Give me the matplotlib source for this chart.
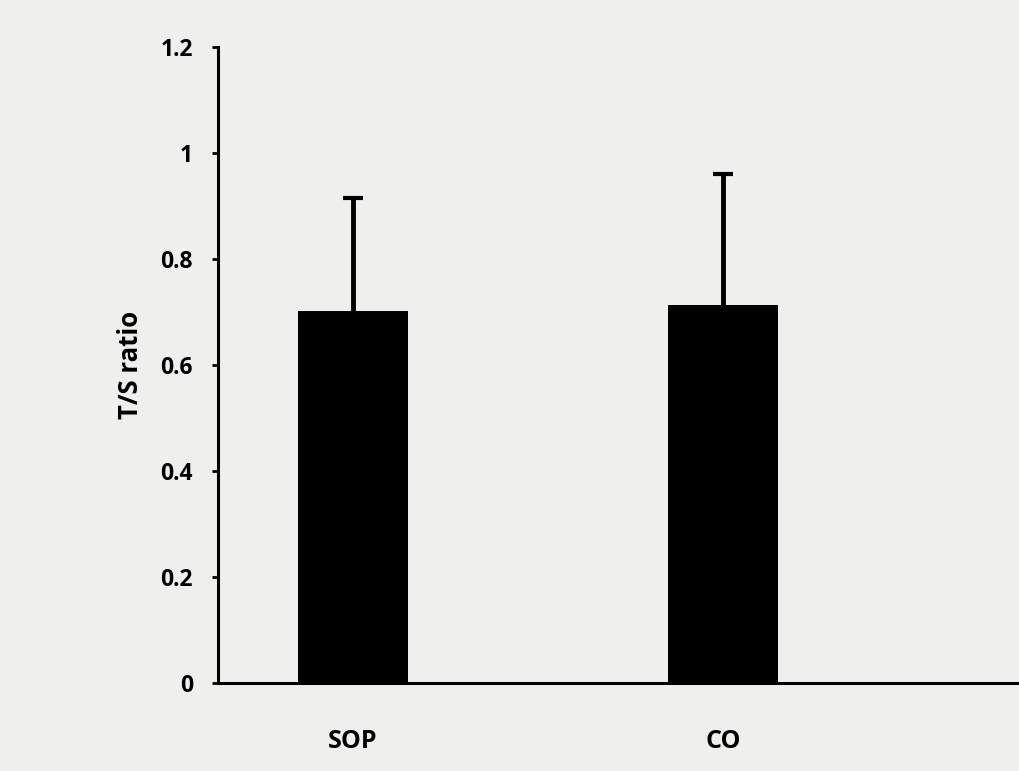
import matplotlib.pyplot as plt

groups = ["SOP", "CO"]
ts_ratio = [0.702, 0.713]
ts_err = [0.213, 0.247]
y_ticks = [0, 0.2, 0.4, 0.6, 0.8, 1.0, 1.2]
y_tick_labels = ["0", "0.2", "0.4", "0.6", "0.8", "1", "1.2"]

plt.rcParams["font.family"] = ["Open Sans", "DejaVu Sans"]
plt.rcParams["font.weight"] = "bold"

fig = plt.figure(figsize=(10.2, 7.71), dpi=100, facecolor="#efefee")
ax = fig.add_axes([0.2137, 0.1141, 0.7863, 0.825])
ax.set_facecolor("#efefee")

pos = range(len(groups))
ax.bar(pos, ts_ratio, width=0.297, color="black", zorder=2)
eb = ax.errorbar(pos, ts_ratio, yerr=[[0, 0], ts_err], fmt="none", ecolor="black",
                 elinewidth=3.5, capsize=7, capthick=3, zorder=1)
# only the upper cap is wanted
eb[1][0].set_visible(False)

ax.set_xlim(-0.365, 1.803)
ax.set_ylim(0, 1.2)
ax.set_yticks(y_ticks)
ax.set_yticklabels(y_tick_labels, fontsize=16.5, fontweight="bold")
ax.set_xticks(list(pos))
ax.set_xticklabels(groups, fontsize=18, fontweight="bold")
ax.tick_params(axis="y", direction="out", length=4, width=2, pad=14)
ax.tick_params(axis="x", length=0, pad=33)
ax.set_ylabel("T/S ratio", fontsize=18.5, fontweight="bold", labelpad=12)

for side in ["top", "right"]:
    ax.spines[side].set_visible(False)
ax.spines["left"].set_linewidth(2.2)
ax.spines["bottom"].set_linewidth(2.2)

fig.savefig("out.png", dpi=100, facecolor=fig.get_facecolor())
